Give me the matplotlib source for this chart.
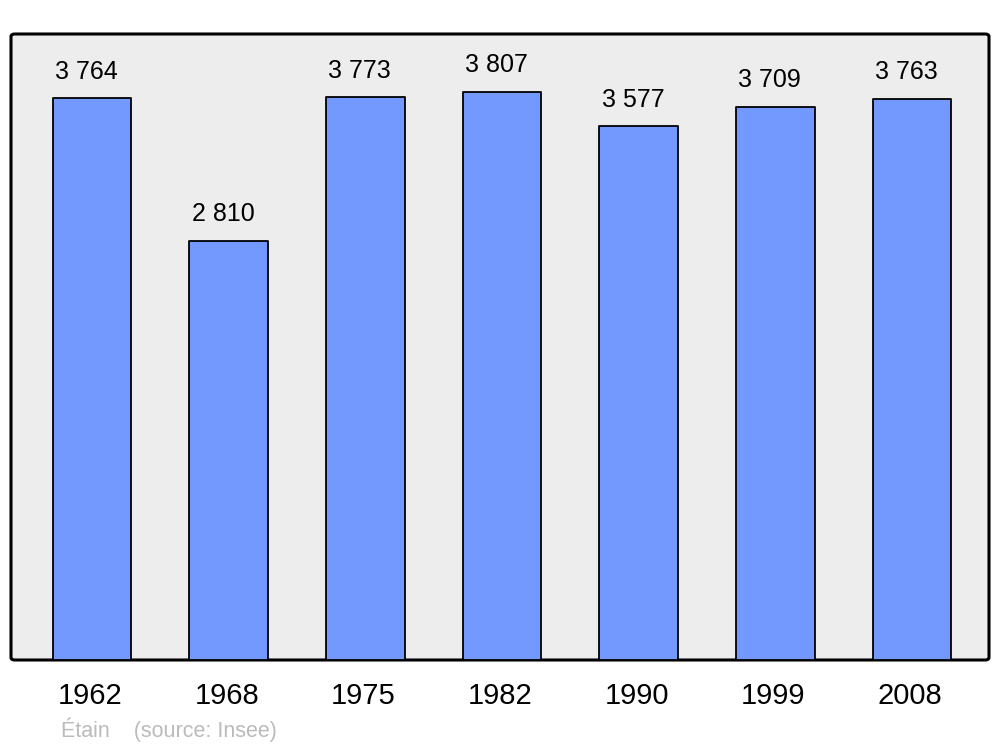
import matplotlib.pyplot as plt
import matplotlib.transforms as mtransforms
from matplotlib.patches import FancyBboxPatch

years = ['1962', '1968', '1975', '1982', '1990', '1999', '2008']
population = [3764, 2810, 3773, 3807, 3577, 3709, 3763]
labels = ['3 764', '2 810', '3 773', '3 807', '3 577', '3 709', '3 763']

plt.rcParams['font.family'] = ['Liberation Sans', 'DejaVu Sans']

fig = plt.figure(figsize=(10, 7.47), dpi=100)
ax = fig.add_axes([0.011, 87 / 747, 0.978, 626 / 747])
ax.set_facecolor('none')
for s in ax.spines.values():
    s.set_visible(False)

# panel background with rounded corners
panel = FancyBboxPatch((0, 0), 1, 1, boxstyle='round,pad=0,rounding_size=0.004',
                       transform=ax.transAxes, facecolor='#ededed',
                       edgecolor='black', linewidth=2.2, zorder=0, clip_on=False)
ax.add_patch(panel)

x = list(range(len(years)))
bars = ax.bar(x, population, width=0.575, color='#7399ff', edgecolor='black',
              linewidth=1.3, zorder=2)
for b in bars:
    b.set_joinstyle('round')

for xi, v, lab in zip(x, population, labels):
    ax.annotate(lab, (xi, v), xytext=(-4, 10.5), textcoords='offset points',
                ha='center', va='bottom', fontsize=18, color='black')

ax.set_xlim(-0.593, 6.563)
ax.set_ylim(0, 4196)
ax.set_yticks([])
ax.set_xticks(x)
ax.set_xticklabels(years, fontsize=21)
ax.tick_params(axis='x', length=0, pad=16, labelcolor='black')
shift = mtransforms.ScaledTranslation(-2 / 100, 0, fig.dpi_scale_trans)
for t in ax.get_xticklabels():
    t.set_transform(t.get_transform() + shift)

fig.text(0.061, 1 - 730 / 747, 'Étain    (source: Insee)', fontsize=15.5,
         color='#bbbbbb', ha='left', va='center')

fig.savefig('out.png', dpi=100)
